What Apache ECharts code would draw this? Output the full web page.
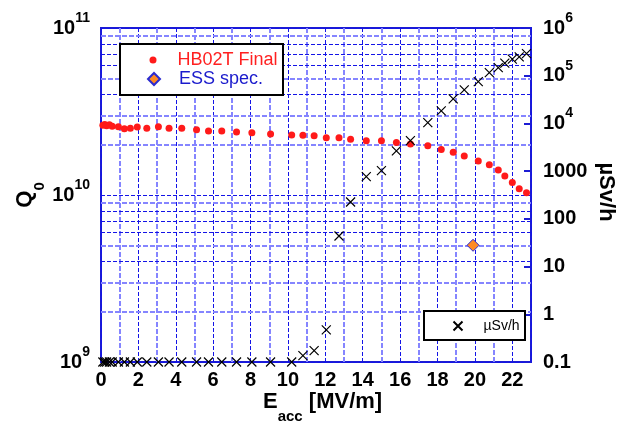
<!DOCTYPE html>
<html>
<head>
<meta charset="utf-8">
<script src="https://cdn.jsdelivr.net/npm/echarts@6/dist/echarts.min.js"></script>
<style>
html, body { margin: 0; padding: 0; background: #fff; }
#chart { width: 622px; height: 424px; }
</style>
</head>
<body>
<div id="chart"></div>
<script>
"use strict";

// Eacc [MV/m] de cada punto medido
const eacc = [0.1, 0.2, 0.3, 0.45, 0.6, 0.93, 1.25, 1.57, 1.94, 2.45,
    3.07, 3.64, 4.32, 5.11, 5.75, 6.46, 7.25, 8.07, 9.07, 10.2,
    10.8, 11.4, 12.05, 12.73, 13.35, 14.19, 15.0, 15.8, 16.55, 17.48,
    18.2, 18.84, 19.43, 20.18, 20.77, 21.25, 21.6, 22.0, 22.37, 22.76];

// Q0 (eje izquierdo)
const q0 = [2.62e10, 2.64e10, 2.60e10, 2.63e10, 2.58e10, 2.56e10, 2.49e10, 2.51e10, 2.55e10, 2.51e10,
    2.56e10, 2.51e10, 2.51e10, 2.46e10, 2.42e10, 2.42e10, 2.38e10, 2.36e10, 2.32e10, 2.29e10,
    2.28e10, 2.26e10, 2.20e10, 2.20e10, 2.16e10, 2.11e10, 2.11e10, 2.06e10, 2.02e10, 1.97e10,
    1.87e10, 1.80e10, 1.71e10, 1.60e10, 1.52e10, 1.41e10, 1.30e10, 1.19e10, 1.09e10, 1.03e10];

// radiacion uSv/h (eje derecho)
const dose = [0.1, 0.1, 0.1, 0.1, 0.1, 0.1, 0.1, 0.1, 0.1, 0.1,
    0.1, 0.1, 0.1, 0.1, 0.1, 0.1, 0.1, 0.1, 0.1, 0.1,
    0.136, 0.173, 0.47, 43.8, 226, 767, 1024, 2650, 4365, 10400,
    18300, 32600, 50400, 75300, 116000, 148000, 183000, 222000, 248000, 291000];

// especificacion ESS
const essE = [19.9];
const essQ = [5e9];

// lineas de rejilla secundarias
const xGridLight = [1, 3, 5, 7, 9, 11, 13, 15, 17, 19, 21];
const qGridLight = [2e9, 3e9, 5e9, 9e9, 2e10, 3e10, 5e10, 9e10];
const qGridDark = [4e9, 6e9, 7e9, 8e9, 4e10, 6e10, 7e10, 8e10];

const FONT = '"Liberation Sans", Arial, sans-serif';
const BLUE = '#1c1cd4';
const lightLine = { color: '#8585ff', width: 2, type: [5, 2] };
const darkLine = { color: '#1414e6', width: 1, type: [4, 2] };

const tickRich = {
    b: { fontFamily: FONT, fontSize: 20, fontWeight: 'bold', color: '#000', lineHeight: 20 },
    s: { fontFamily: FONT, fontSize: 14, fontWeight: 'bold', color: '#000', lineHeight: 14, padding: [0, 0, 20, 0] }
};
const titleRich = {
    b: { fontFamily: FONT, fontSize: 22, fontWeight: 'bold', fill: '#000', lineHeight: 22 },
    s: { fontFamily: FONT, fontSize: 15, fontWeight: 'bold', fill: '#000', lineHeight: 15, padding: [30, 0, 0, 0] }
};

const exponent = v => Math.round(Math.log10(v));

const gridLines = []
    .concat(xGridLight.map(v => ({ xAxis: v, lineStyle: lightLine })))
    .concat(qGridLight.map(v => ({ yAxis: v, lineStyle: lightLine })))
    .concat(qGridDark.map(v => ({ yAxis: v, lineStyle: darkLine })));

var myChart = echarts.init(document.getElementById('chart'));

var option = {
    animation: false,
    backgroundColor: '#fff',
    grid: {
        left: 101, right: 91, top: 28, bottom: 62,
        show: true, borderColor: BLUE, borderWidth: 2, backgroundColor: 'transparent'
    },
    xAxis: {
        type: 'value', min: 0, max: 23, interval: 2,
        axisLine: { show: false },
        axisTick: { show: false },
        splitLine: { show: true, lineStyle: darkLine },
        axisLabel: {
            margin: 8,
            fontFamily: FONT, fontSize: 20, fontWeight: 'bold', color: '#000',
            formatter: v => (v % 2 === 0 ? String(v) : '')
        }
    },
    yAxis: [{
        type: 'log', min: 1e9, max: 1e11, logBase: 10,
        axisLine: { show: false },
        axisTick: { show: false },
        splitLine: { show: true, lineStyle: darkLine },
        axisLabel: {
            margin: 11,
            formatter: v => '{b|10}{s|' + exponent(v) + '}',
            rich: tickRich
        }
    }, {
        type: 'log', min: 0.1, max: 1e6, logBase: 10,
        position: 'right',
        axisLine: { show: false },
        axisTick: { show: true, inside: true, length: 7, lineStyle: { color: BLUE, width: 2 } },
        splitLine: { show: false },
        axisLabel: {
            margin: 12,
            formatter: v => {
                const e = exponent(v);
                if (e < 4) return '{b|' + (e < 0 ? '0.1' : String(Math.pow(10, e))) + '}';
                return '{b|10}{s|' + e + '}';
            },
            rich: tickRich
        }
    }],
    legend: [{
        data: ['HB02T Final'], left: 149.5, top: 51, padding: 0, z: 8,
        itemWidth: 7, itemHeight: 7,
        selectedMode: false,
        textStyle: { fontFamily: FONT, fontSize: 18, lineHeight: 18, color: '#ff2020', padding: [0, 0, 0, 16] }
    }, {
        data: ['ESS spec.'], left: 147, top: 70, padding: 0, z: 8,
        itemWidth: 12, itemHeight: 12,
        selectedMode: false,
        textStyle: { fontFamily: FONT, fontSize: 18, lineHeight: 18, color: '#1a1acc', padding: [0, 0, 0, 14] }
    }, {
        data: ['µSv/h'], left: 452.5, top: 319, padding: 0, z: 8,
        itemWidth: 9, itemHeight: 9,
        selectedMode: false,
        textStyle: { fontFamily: FONT, fontSize: 14, lineHeight: 14, color: '#000', padding: [0, 0, 0, 16] }
    }],
    graphic: [
        { type: 'rect', z: 6, shape: { x: 120, y: 44, width: 163, height: 51 },
          style: { fill: '#fff', stroke: '#000', lineWidth: 2 } },
        { type: 'rect', z: 6, shape: { x: 424, y: 311, width: 101, height: 29 },
          style: { fill: '#fff', stroke: '#000', lineWidth: 2 } },
        { type: 'text', x: 263, y: 402,
          style: { text: '{b|E}{s|acc}{b| [MV/m]}', rich: titleRich, verticalAlign: 'middle' } },
        { type: 'text', x: 25, y: 195, rotation: Math.PI / 2,
          style: { text: '{b|Q}{s|0}', rich: titleRich, align: 'center', verticalAlign: 'middle' } },
        { type: 'text', x: 606, y: 192, rotation: -Math.PI / 2,
          style: { text: 'µSv/h', fontFamily: FONT, fontSize: 22, fontWeight: 'bold', fill: '#000',
                   align: 'center', verticalAlign: 'middle' } }
    ],
    series: [{
        name: 'HB02T Final',
        type: 'scatter',
        yAxisIndex: 0,
        symbol: 'circle',
        symbolSize: 7,
        itemStyle: { color: '#ff1a1a', opacity: 1 },
        emphasis: { disabled: true },
        data: eacc.map((e, i) => [e, q0[i]]),
        markLine: {
            silent: true,
            z: 1,
            symbol: ['none', 'none'],
            label: { show: false },
            emphasis: { disabled: true },
            data: gridLines
        }
    }, {
        name: 'ESS spec.',
        type: 'scatter',
        yAxisIndex: 0,
        symbol: 'diamond',
        symbolSize: 12,
        itemStyle: { color: '#ff8a24', borderColor: '#2b2bd0', borderWidth: 1, opacity: 1 },
        emphasis: { disabled: true },
        data: essE.map((e, i) => [e, essQ[i]])
    }, {
        name: 'µSv/h',
        type: 'scatter',
        yAxisIndex: 1,
        symbol: 'path://M0,0L8,8M8,0L0,8',
        symbolSize: 9,
        clip: false,
        itemStyle: { color: '#000', borderColor: '#000', borderWidth: 1.2, opacity: 1 },
        emphasis: { disabled: true },
        data: eacc.map((e, i) => [e, dose[i]])
    }]
};

myChart.setOption(option);
</script>
</body>
</html>
